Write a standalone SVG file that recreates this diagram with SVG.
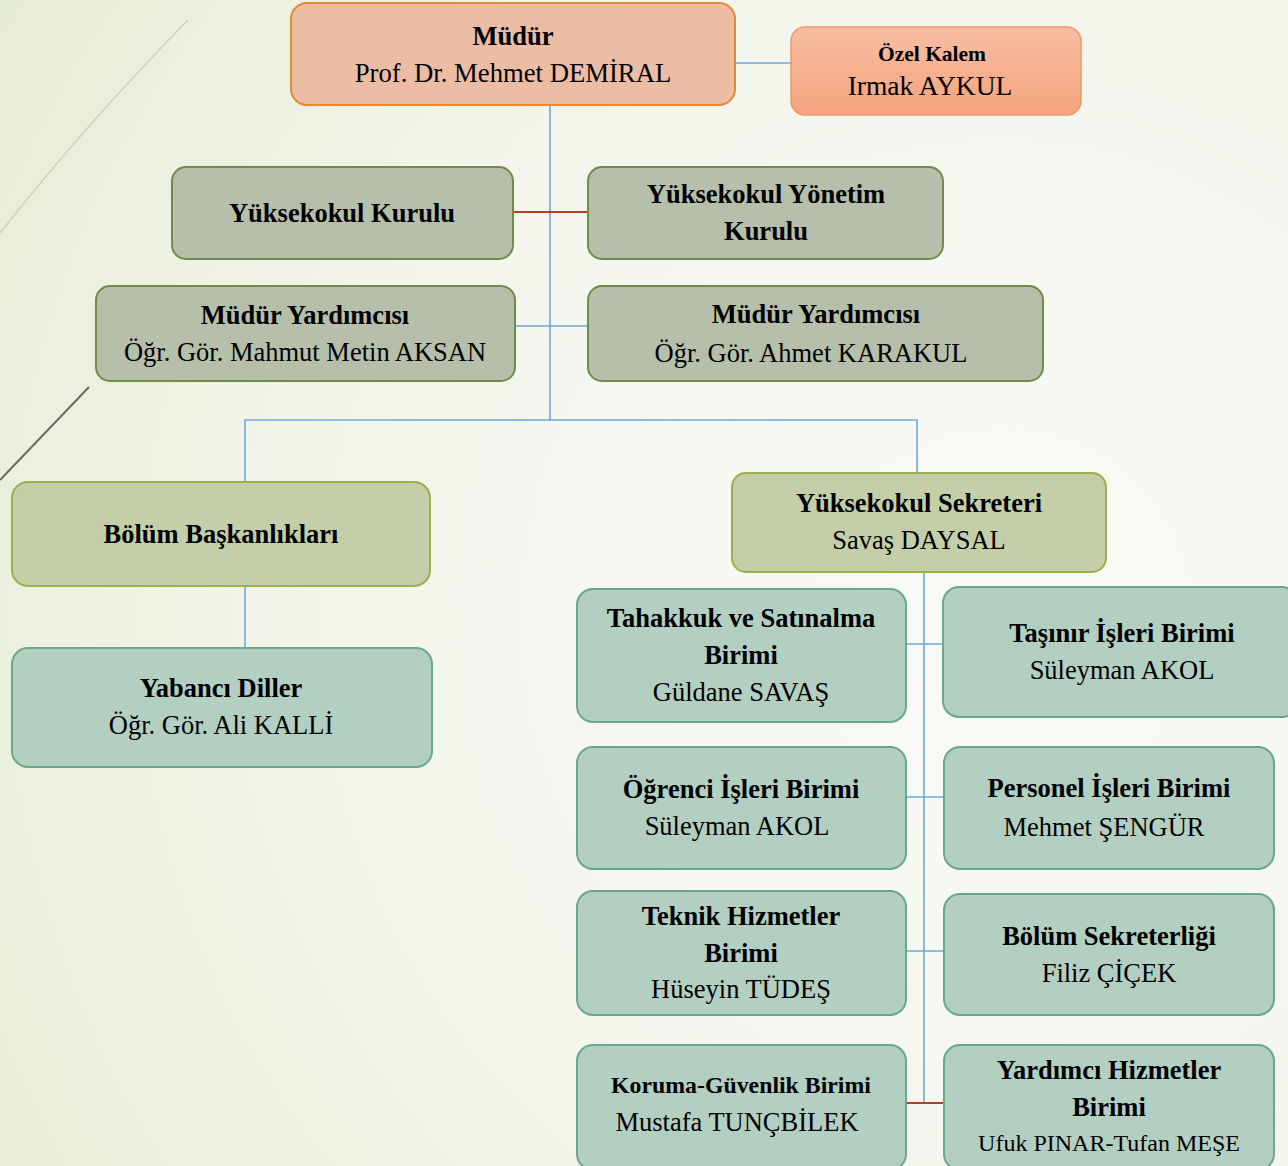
<svg xmlns="http://www.w3.org/2000/svg" width="1288" height="1166" viewBox="0 0 1288 1166">
<defs>
<radialGradient id="bg" cx="1000" cy="620" r="1250" gradientUnits="userSpaceOnUse">
<stop offset="0" stop-color="#fafbf7"/>
<stop offset="0.55" stop-color="#f3f5ec"/>
<stop offset="1" stop-color="#e4ebd3"/>
</radialGradient>
<linearGradient id="ozel" x1="0" y1="0" x2="0" y2="1">
<stop offset="0" stop-color="#f8bea2"/>
<stop offset="1" stop-color="#f5a47f"/>
</linearGradient>
<style>
.t{font-family:"Liberation Serif","Times New Roman",serif;fill:#000;text-anchor:middle;font-size:26.5px}
.b{font-weight:bold}
.gray{fill:#b5bfaa;stroke:#6f8c4c;stroke-width:2}
.olive{fill:#c4cfa9;stroke:#9ab04c;stroke-width:2}
.teal{fill:#b3cfc1;stroke:#6aa88a;stroke-width:2}
.blue{stroke:#6ea8dc;stroke-width:1.6;fill:none}
.red{stroke:#b4401f;stroke-width:2.2;fill:none}
</style>
</defs>
<rect width="1288" height="1166" fill="url(#bg)"/>
<path d="M188,20 Q85,125 0,233" stroke="#cdd0bd" stroke-width="1.5" fill="none"/>
<path d="M89,387 L0,480" stroke="#6e6a55" stroke-width="2" fill="none"/>

<g id="connectors">
<line class="blue" x1="735" y1="63" x2="791" y2="63"/>
<line class="blue" x1="550" y1="105" x2="550" y2="420"/>
<line class="red" x1="513" y1="212" x2="588" y2="212"/>
<line class="blue" x1="515" y1="326" x2="588" y2="326"/>
<polyline class="blue" points="245,482 245,420 917,420 917,474"/>
<line class="blue" x1="245" y1="586" x2="245" y2="648"/>
<line class="blue" x1="924" y1="572" x2="924" y2="1103"/>
<line class="blue" x1="906" y1="644" x2="943" y2="644"/>
<line class="blue" x1="906" y1="797" x2="944" y2="797"/>
<line class="blue" x1="906" y1="951" x2="944" y2="951"/>
<line class="red" x1="906" y1="1103" x2="944" y2="1103"/>
</g>

<g id="mudur">
<rect x="291" y="3" width="444" height="102" rx="16" fill="#ecbca5" stroke="#e38b30" stroke-width="2"/>
<text class="t b" x="513" y="45">Müdür</text>
<text class="t" x="513" y="82" style="font-size:26.7px">Prof. Dr. Mehmet DEMİRAL</text>
</g>
<g id="ozel-kalem">
<rect x="791" y="27" width="290" height="88" rx="14" fill="url(#ozel)" stroke="#f09a66" stroke-width="1.5"/>
<text class="t b" x="932" y="61" style="font-size:21.5px">Özel Kalem</text>
<text class="t" x="930" y="95" style="font-size:27.5px">Irmak AYKUL</text>
</g>
<g id="yuksekokul-kurulu">
<rect class="gray" x="172" y="167" width="341" height="92" rx="14"/>
<text class="t b" x="342" y="222">Yüksekokul Kurulu</text>
</g>
<g id="yonetim-kurulu">
<rect class="gray" x="588" y="167" width="355" height="92" rx="14"/>
<text class="t b" x="766" y="203">Yüksekokul Yönetim</text>
<text class="t b" x="766" y="240">Kurulu</text>
</g>
<g id="mudur-yrd-1">
<rect class="gray" x="96" y="286" width="419" height="95" rx="14"/>
<text class="t b" x="305" y="324">Müdür Yardımcısı</text>
<text class="t" x="305" y="361">Öğr. Gör. Mahmut Metin AKSAN</text>
</g>
<g id="mudur-yrd-2">
<rect class="gray" x="588" y="286" width="455" height="95" rx="14"/>
<text class="t b" x="816" y="323">Müdür Yardımcısı</text>
<text class="t" x="811" y="362">Öğr. Gör. Ahmet KARAKUL</text>
</g>
<g id="bolum-baskanliklari">
<rect class="olive" x="12" y="482" width="418" height="104" rx="16"/>
<text class="t b" x="221" y="543">Bölüm Başkanlıkları</text>
</g>
<g id="yabanci-diller">
<rect class="teal" x="12" y="648" width="420" height="119" rx="16"/>
<text class="t b" x="221" y="697">Yabancı Diller</text>
<text class="t" x="221" y="734">Öğr. Gör. Ali KALLİ</text>
</g>
<g id="sekreter">
<rect class="olive" x="732" y="473" width="374" height="99" rx="14"/>
<text class="t b" x="919" y="512">Yüksekokul Sekreteri</text>
<text class="t" x="919" y="549">Savaş DAYSAL</text>
</g>
<g id="tahakkuk">
<rect class="teal" x="577" y="589" width="329" height="133" rx="16"/>
<text class="t b" x="741" y="627">Tahakkuk ve Satınalma</text>
<text class="t b" x="741" y="664">Birimi</text>
<text class="t" x="741" y="701">Güldane SAVAŞ</text>
</g>
<g id="tasinir">
<rect class="teal" x="943" y="587" width="355" height="130" rx="16"/>
<text class="t b" x="1122" y="642">Taşınır İşleri Birimi</text>
<text class="t" x="1122" y="679">Süleyman AKOL</text>
</g>
<g id="ogrenci">
<rect class="teal" x="577" y="747" width="329" height="122" rx="16"/>
<text class="t b" x="741" y="798">Öğrenci İşleri Birimi</text>
<text class="t" x="737" y="835">Süleyman AKOL</text>
</g>
<g id="personel">
<rect class="teal" x="944" y="747" width="330" height="122" rx="16"/>
<text class="t b" x="1109" y="797">Personel İşleri Birimi</text>
<text class="t" x="1104" y="836">Mehmet ŞENGÜR</text>
</g>
<g id="teknik">
<rect class="teal" x="577" y="891" width="329" height="124" rx="16"/>
<text class="t b" x="741" y="925">Teknik Hizmetler</text>
<text class="t b" x="741" y="962">Birimi</text>
<text class="t" x="741" y="998">Hüseyin TÜDEŞ</text>
</g>
<g id="bolum-sekreterligi">
<rect class="teal" x="944" y="894" width="330" height="121" rx="16"/>
<text class="t b" x="1109" y="945">Bölüm Sekreterliği</text>
<text class="t" x="1109" y="982">Filiz ÇİÇEK</text>
</g>
<g id="koruma">
<rect class="teal" x="577" y="1045" width="329" height="125" rx="16"/>
<text class="t b" x="741" y="1093" style="font-size:23.8px">Koruma-Güvenlik Birimi</text>
<text class="t" x="737" y="1131">Mustafa TUNÇBİLEK</text>
</g>
<g id="yardimci">
<rect class="teal" x="944" y="1045" width="330" height="125" rx="16"/>
<text class="t b" x="1109" y="1079">Yardımcı Hizmetler</text>
<text class="t b" x="1109" y="1116">Birimi</text>
<text class="t" x="1109" y="1151" style="font-size:24px">Ufuk PINAR-Tufan MEŞE</text>
</g>
</svg>
